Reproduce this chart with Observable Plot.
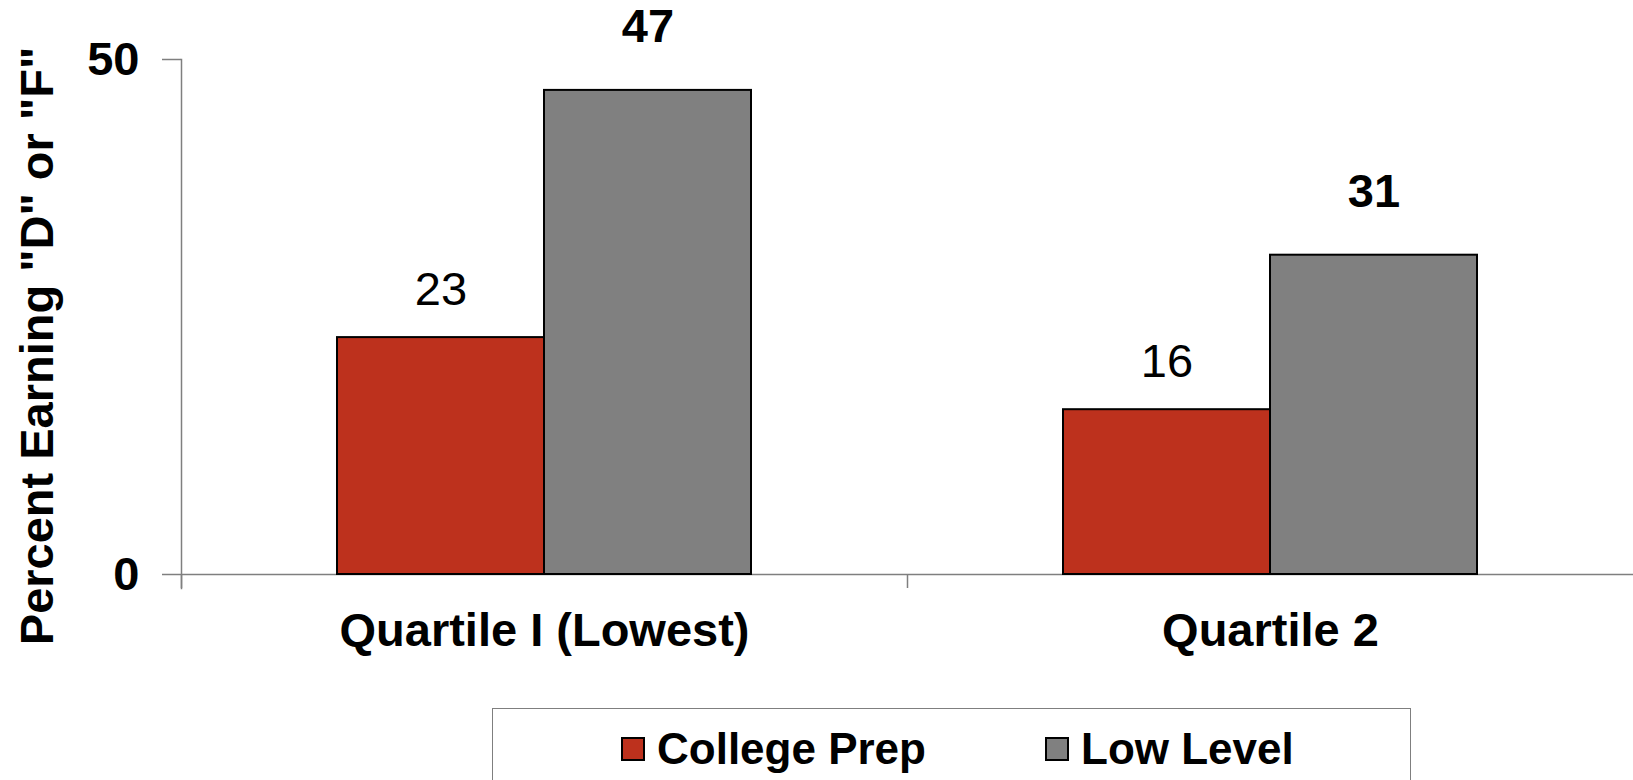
<!DOCTYPE html>
<html>
<head>
<meta charset="utf-8">
<script src="https://cdn.jsdelivr.net/npm/d3@7"></script>
<script src="https://cdn.jsdelivr.net/npm/@observablehq/plot@0.6"></script>
<style>
  html, body { margin: 0; padding: 0; background: #fff; overflow: hidden; }
  body { width: 1633px; height: 780px; position: relative; font-family: "Liberation Sans", Arial, sans-serif; }
  #chart { position: absolute; left: 0; top: 0; }
  #legend { position: absolute; left: 492px; top: 708px; width: 919px; height: 110px;
            border: 1.5px solid #7f7f7f; box-sizing: border-box; }
  .item { position: absolute; top: 18px; display: flex; align-items: center;
          font-size: 44px; font-weight: bold; color: #000; line-height: 44px; }
  .sw { width: 20px; height: 20px; border: 2px solid #000; margin-right: 12px; }
</style>
</head>
<body>
<div id="chart"></div>
<div id="legend"></div>
<script>
const quartiles = ["Quartile I (Lowest)", "Quartile 2"];
const seriesNames = ["College Prep", "Low Level"];
const collegePrep = [23, 16];
const lowLevel = [47, 31];
const seriesColors = ["#BD311D", "#808080"];
const yTicks = [0, 50];
const yLabel = 'Percent Earning "D" or "F"';

const data = quartiles.flatMap((q, i) => [
  {quartile: q, series: seriesNames[0], value: collegePrep[i]},
  {quartile: q, series: seriesNames[1], value: lowLevel[i]}
]);

const axisGray = "#7f7f7f";

const chart = Plot.plot({
  width: 1633,
  height: 700,
  marginLeft: 180,
  marginRight: 0,
  marginTop: 59,
  marginBottom: 126,
  style: {fontFamily: "'Liberation Sans', Arial, sans-serif", fontSize: "47px", fontWeight: "bold", color: "black", background: "white", overflow: "visible"},
  fx: {domain: quartiles, padding: 0, label: null},
  x: {domain: seriesNames, paddingInner: 0, paddingOuter: 0.75, axis: null},
  y: {domain: [0, 50], label: null},
  color: {domain: seriesNames, range: seriesColors},
  marks: [
    Plot.ruleY([0], {stroke: axisGray, strokeWidth: 1.5}),
    Plot.frame({anchor: "left", stroke: axisGray, strokeWidth: 1.5, insetBottom: -14, facetAnchor: "left"}),
    Plot.axisY({ticks: yTicks, tickSize: 19, tickPadding: 23, stroke: axisGray, strokeWidth: 1.5, fill: "black", label: null}),
    Plot.barY(data, {fx: "quartile", x: "series", y: "value", fill: "series", stroke: "black", strokeWidth: 2}),
    Plot.text(data.filter(d => d.series === seriesNames[0]),
      {fx: "quartile", x: "series", y: "value", text: d => String(d.value), dy: -48, fontWeight: "normal", fill: "black"}),
    Plot.text(data.filter(d => d.series === seriesNames[1]),
      {fx: "quartile", x: "series", y: "value", text: d => String(d.value), dy: -63, fontWeight: "bold", fill: "black"}),
    Plot.axisFx({anchor: "bottom", tickSize: 0, tickPadding: 38, label: null, fill: "black"}),
    Plot.axisFx({anchor: "bottom", tickSize: 14, dx: -363, fill: "none", stroke: axisGray, strokeWidth: 1.5, label: null}),
    Plot.text([{q: quartiles[0], t: yLabel}],
      {fx: "q", text: "t", frameAnchor: "left", textAnchor: "middle", rotate: -90, dx: -144, dy: 29, fill: "black"})
  ]
});
document.getElementById("chart").appendChild(chart);

// legend built from the series arrays
const legend = document.getElementById("legend");
const itemLeft = [128, 552];
seriesNames.forEach((name, i) => {
  const item = document.createElement("div");
  item.className = "item";
  item.style.left = itemLeft[i] + "px";
  const sw = document.createElement("div");
  sw.className = "sw";
  sw.style.background = seriesColors[i];
  const label = document.createElement("span");
  label.textContent = name;
  item.appendChild(sw);
  item.appendChild(label);
  legend.appendChild(item);
});
</script>
</body>
</html>
